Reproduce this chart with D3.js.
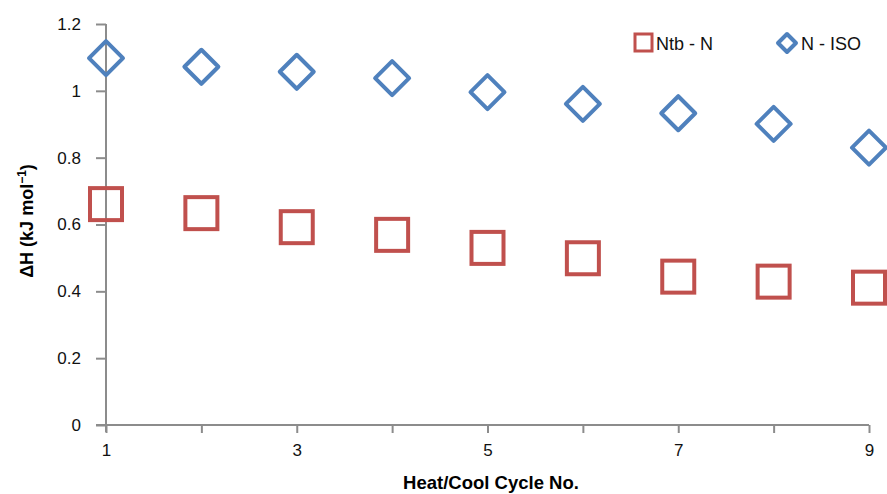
<!DOCTYPE html>
<html>
<head>
<meta charset="utf-8">
<script src="https://cdn.jsdelivr.net/npm/d3@7"></script>
<style>
  body { margin: 0; background: #fff; }
  svg { display: block; font-family: "Liberation Sans", Arial, sans-serif; }
</style>
</head>
<body>
<div id="chart"></div>
<script>
"use strict";

const cycles = [1, 2, 3, 4, 5, 6, 7, 8, 9];
const ntbN = [0.661, 0.634, 0.592, 0.569, 0.530, 0.499, 0.444, 0.429, 0.411];
const nIso = [1.098, 1.072, 1.057, 1.038, 0.996, 0.961, 0.933, 0.901, 0.830];
const xTickLabels = [1, 3, 5, 7, 9];
const yTicks = [0, 0.2, 0.4, 0.6, 0.8, 1, 1.2];

const width = 887, height = 494;
const margin = {top: 24, right: 18, bottom: 69, left: 106};
const axisColor = "#8c8c8c";
const red = "#C0504D", blue = "#4F81BD";
const fontFamily = "Liberation Sans, Arial, sans-serif";

const svg = d3.select("#chart").append("svg")
    .attr("width", width)
    .attr("height", height);

const x = d3.scaleLinear().domain([1, 9]).range([margin.left, width - margin.right]);
const y = d3.scaleLinear().domain([0, 1.2]).range([height - margin.bottom, margin.top]);

// y axis
const yAxis = svg.append("g")
    .attr("transform", "translate(" + margin.left + ",0)")
    .call(d3.axisLeft(y).tickValues(yTicks).tickSize(10).tickPadding(15)
        .tickFormat(d => d === 0 ? "0" : d3.format("~g")(d)))
    .attr("font-size", 17)
    .attr("font-family", fontFamily);
yAxis.select(".domain").remove();
yAxis.append("line")
    .attr("x1", 0).attr("x2", 0)
    .attr("y1", y(1.2)).attr("y2", y(0) + 7)
    .attr("stroke", axisColor).attr("stroke-width", 2);
yAxis.selectAll(".tick line").attr("stroke", axisColor).attr("stroke-width", 2);
yAxis.selectAll(".tick text").attr("fill", "#111");

// x axis
const xAxis = svg.append("g")
    .attr("transform", "translate(0," + y(0) + ")")
    .call(d3.axisBottom(x).tickValues(cycles).tickSize(8).tickPadding(11)
        .tickFormat(d => xTickLabels.includes(d) ? d : ""))
    .attr("font-size", 17)
    .attr("font-family", fontFamily);
xAxis.select(".domain").remove();
xAxis.append("line")
    .attr("x1", margin.left - 10).attr("x2", x(9))
    .attr("y1", 0).attr("y2", 0)
    .attr("stroke", axisColor).attr("stroke-width", 2);
xAxis.selectAll(".tick line").attr("stroke", axisColor).attr("stroke-width", 2);
xAxis.selectAll(".tick text").attr("fill", "#111");

// axis titles
svg.append("text")
    .attr("x", 491)
    .attr("y", 489)
    .attr("text-anchor", "middle")
    .attr("font-size", 18.5)
    .attr("font-weight", "bold")
    .text("Heat/Cool Cycle No.");

const yTitle = svg.append("text")
    .attr("transform", "translate(33,221) rotate(-90)")
    .attr("text-anchor", "middle")
    .attr("font-size", 18)
    .attr("font-weight", "bold");
yTitle.append("tspan").text("ΔH (kJ mol");
yTitle.append("tspan").attr("dy", -7).attr("font-size", 12).text("−1");
yTitle.append("tspan").attr("dy", 7).text(")");

// markers
const sq = 16, dm = 17;

svg.append("g").selectAll("rect")
    .data(cycles)
    .join("rect")
    .attr("x", (d) => x(d) - sq)
    .attr("y", (d, i) => y(ntbN[i]) - sq)
    .attr("width", sq * 2)
    .attr("height", sq * 2)
    .attr("fill", "none")
    .attr("stroke", red)
    .attr("stroke-width", 4);

const diamondPath = (cx, cy, r) =>
    "M" + cx + "," + (cy - r) + "L" + (cx + r) + "," + cy +
    "L" + cx + "," + (cy + r) + "L" + (cx - r) + "," + cy + "Z";

svg.append("g").selectAll("path")
    .data(cycles)
    .join("path")
    .attr("d", (d, i) => diamondPath(x(d), y(nIso[i]), dm))
    .attr("fill", "none")
    .attr("stroke", blue)
    .attr("stroke-width", 4)
    .attr("stroke-linejoin", "round");

// legend
const legend = svg.append("g").attr("class", "legend");
legend.append("rect")
    .attr("x", 635).attr("y", 34).attr("width", 17).attr("height", 17)
    .attr("fill", "none").attr("stroke", red).attr("stroke-width", 3);
legend.append("text")
    .attr("x", 656).attr("y", 50).attr("font-size", 18).attr("fill", "#111")
    .text("Ntb - N");
legend.append("path")
    .attr("d", diamondPath(787, 43, 9))
    .attr("fill", "none").attr("stroke", blue).attr("stroke-width", 4)
    .attr("stroke-linejoin", "round");
legend.append("text")
    .attr("x", 801).attr("y", 50).attr("font-size", 18).attr("fill", "#111")
    .text("N - ISO");
</script>
</body>
</html>
